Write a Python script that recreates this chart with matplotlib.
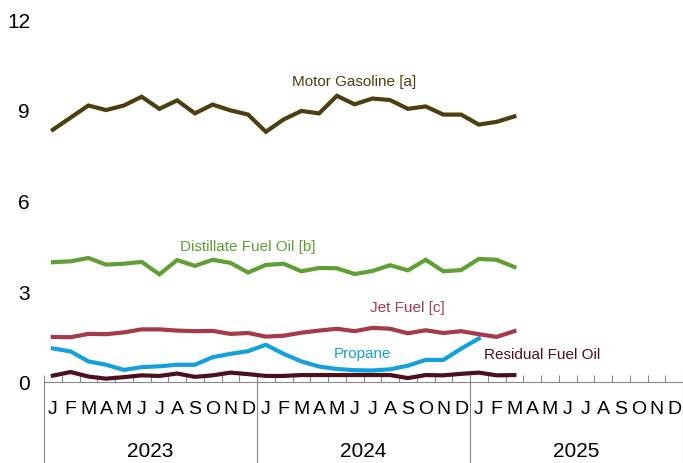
import numpy as np
import matplotlib
matplotlib.use('Agg')
import matplotlib.pyplot as plt
import matplotlib.transforms as mtransforms
from matplotlib import font_manager

names = set(f.name for f in font_manager.fontManager.ttflist)
fam = 'Liberation Sans Narrow' if 'Liberation Sans Narrow' in names else 'Liberation Sans'
plt.rcParams['font.family'] = [fam, 'DejaVu Sans']

months = ['J', 'F', 'M', 'A', 'M', 'J', 'J', 'A', 'S', 'O', 'N', 'D'] * 3
years = ['2023', '2024', '2025']

gasoline = [8.34, 8.74, 9.14, 8.99, 9.14, 9.43, 9.03, 9.31, 8.88, 9.17, 8.98, 8.84,
            8.27, 8.68, 8.96, 8.88, 9.46, 9.18, 9.37, 9.32, 9.03, 9.11, 8.84, 8.84,
            8.51, 8.60, 8.78]
distillate = [3.96, 3.99, 4.10, 3.88, 3.91, 3.97, 3.56, 4.03, 3.84, 4.04, 3.94, 3.62,
              3.87, 3.91, 3.66, 3.77, 3.76, 3.57, 3.67, 3.86, 3.69, 4.04, 3.66, 3.70,
              4.07, 4.04, 3.80]
jet_fuel = [1.49, 1.48, 1.59, 1.58, 1.64, 1.74, 1.74, 1.70, 1.68, 1.69, 1.59, 1.62,
            1.50, 1.53, 1.63, 1.70, 1.76, 1.68, 1.79, 1.76, 1.61, 1.71, 1.62, 1.68,
            1.58, 1.49, 1.68]
propane = [1.11, 1.01, 0.68, 0.57, 0.40, 0.49, 0.52, 0.57, 0.57, 0.82, 0.93, 1.02,
           1.23, 0.93, 0.68, 0.51, 0.43, 0.39, 0.38, 0.42, 0.54, 0.73, 0.73, 1.10,
           1.44]
residual = [0.21, 0.33, 0.18, 0.11, 0.16, 0.22, 0.20, 0.28, 0.17, 0.22, 0.31, 0.26,
            0.20, 0.20, 0.23, 0.23, 0.23, 0.23, 0.23, 0.23, 0.13, 0.23, 0.22, 0.27,
            0.31, 0.22, 0.23]

series = [
    (gasoline, '#4d3e0f', 'Motor Gasoline [a]', 17.0, 9.95),
    (distillate, '#5f9f35', 'Distillate Fuel Oil [b]', 11.0, 4.5),
    (jet_fuel, '#a63a4c', 'Jet Fuel [c]', 20.0, 2.48),
    (propane, '#14a0dc', 'Propane', 17.45, 0.96),
    (residual, '#4b0f1d', 'Residual Fuel Oil', 27.55, 0.93),
]

fig = plt.figure(figsize=(6.83, 4.64), dpi=100)
ax = fig.add_axes([44 / 683, 81 / 464, 639 / 683, 363 / 464])

for vals, col, name, tx, ty in series:
    ax.plot(np.arange(len(vals)), vals, color=col, lw=3, solid_joinstyle='miter')
    ax.text(tx, ty, name, color=col, fontsize=11, ha='center', va='center')

ax.set_xlim(-0.5, 35.5)
ax.set_ylim(0, 12)
ax.set_yticks([0, 3, 6, 9, 12])
ax.tick_params(axis='y', length=0, labelsize=15, pad=10)
ax.set_xticks(np.arange(36))
ax.set_xticklabels(months)
ax.set_xticks(np.arange(-0.5, 36, 1), minor=True)
ax.tick_params(axis='x', which='major', length=0, labelsize=14, pad=13)
ax.tick_params(axis='x', which='minor', direction='in', length=5, color='#888888', width=0.8)
for s in ['top', 'right', 'left']:
    ax.spines[s].set_visible(False)
ax.spines['bottom'].set_color('#888888')
ax.spines['bottom'].set_linewidth(0.8)

trans = mtransforms.blended_transform_factory(ax.transData, ax.transAxes)
for x in [-0.5, 11.5, 23.5, 35.5]:
    ax.plot([x, x], [0, -0.25], transform=trans, color='#888888', lw=0.8, clip_on=False)
for i, y in enumerate(years):
    ax.text(5.5 + 12 * i, -0.19, y, transform=trans, ha='center', va='center', fontsize=15)

fig.savefig('out.png', dpi=100)
